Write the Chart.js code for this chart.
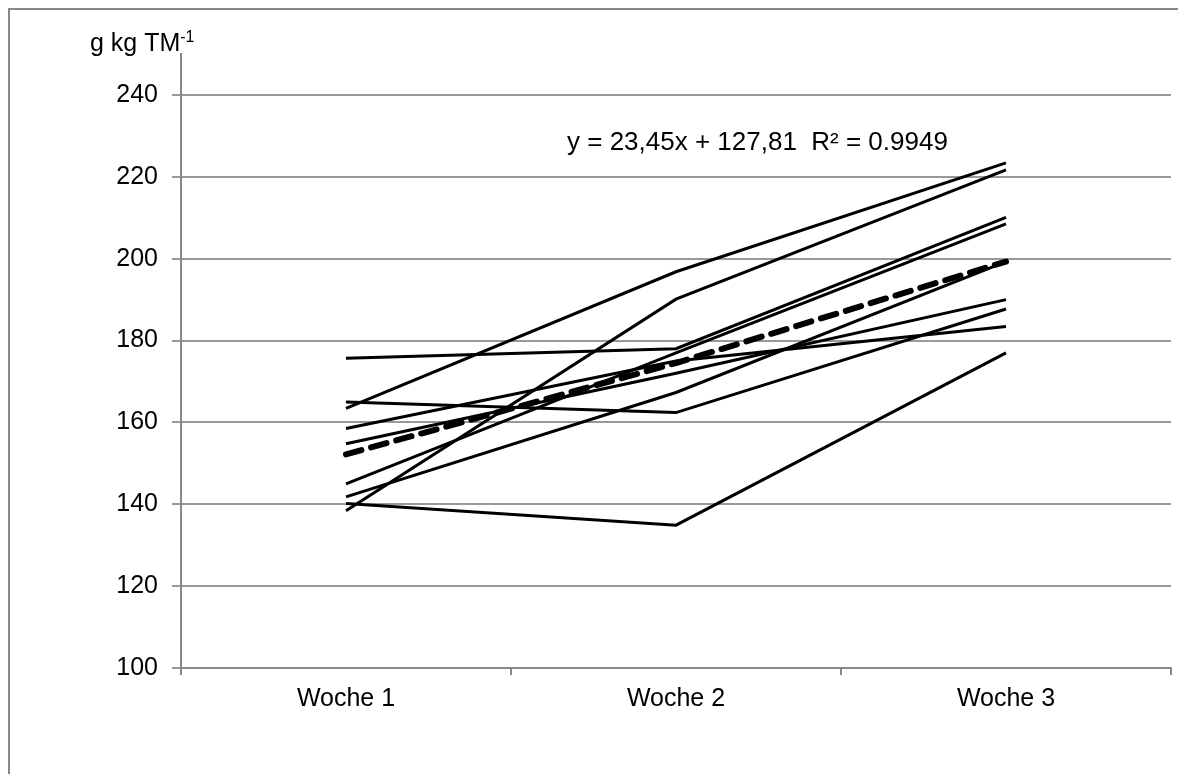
<!DOCTYPE html>
<html>
<head>
<meta charset="utf-8">
<script src="https://cdn.jsdelivr.net/npm/chart.js@4.4.1/dist/chart.umd.min.js"></script>
<style>
html,body{margin:0;padding:0;background:#fff;}
#wrap{position:relative;width:1178px;height:774px;}
</style>
</head>
<body>
<div id="wrap"><canvas id="c" width="1178" height="774"></canvas></div>
<script>
const categories = ['Woche 1', 'Woche 2', 'Woche 3'];
const seriesA = [163.4, 196.8, 223.4];
const seriesB = [138.4, 190.1, 221.7];
const seriesC = [140.2, 134.9, 177.0];
const seriesD = [165.0, 162.4, 187.7];
const seriesE = [175.7, 178.0, 210.1];
const seriesF = [141.8, 167.3, 199.3];
const seriesG = [158.5, 175.0, 183.4];
const seriesH = [154.8, 172.0, 190.0];
const seriesI = [145.0, 177.0, 208.5];
const meanLine = [152.2, 174.5, 199.3];
const yTickValues = [100, 120, 140, 160, 180, 200, 220, 240];
const yMin = 100, yMax = 250;
const unitLabel = 'g kg TM';
const unitSup = '-1';
const formulaText = 'y = 23,45x + 127,81  R² = 0.9949';

const FONT = '"Liberation Sans", Arial, sans-serif';
const solidSets = [seriesA, seriesB, seriesC, seriesD, seriesE, seriesF, seriesG, seriesH, seriesI];
const datasets = solidSets.map((d, i) => ({
  label: 'S' + (i + 1), data: d, borderColor: '#000', borderWidth: 3,
  pointRadius: 0, tension: 0, fill: false
}));
datasets.push({
  label: 'Mittel', data: meanLine, borderColor: '#000', borderWidth: 6,
  borderDash: [16, 10], borderCapStyle: 'round', pointRadius: 0, tension: 0, fill: false
});

const decor = {
  id: 'decor',
  beforeDraw(chart) {
    const ctx = chart.ctx;
    ctx.save();
    ctx.fillStyle = '#fff';
    ctx.fillRect(0, 0, chart.width, chart.height);
    ctx.strokeStyle = '#888';
    ctx.lineWidth = 2;
    ctx.strokeRect(9, 9, 1300, 900);
    ctx.restore();
  },
  afterDraw(chart) {
    const ctx = chart.ctx;
    ctx.save();
    ctx.fillStyle = '#000';
    ctx.textBaseline = 'alphabetic';
    ctx.font = '25px ' + FONT;
    ctx.fillText(unitLabel, 90, 51);
    const w = ctx.measureText(unitLabel).width;
    ctx.font = '16px ' + FONT;
    ctx.fillText(unitSup, 90 + w, 42);
    ctx.font = '26px ' + FONT;
    ctx.fillText(formulaText, 567, 150);
    ctx.restore();
  }
};

new Chart(document.getElementById('c'), {
  type: 'line',
  data: { labels: categories, datasets },
  options: {
    responsive: false, animation: false,
    layout: { padding: { left: 0, top: 54, right: 7, bottom: 0 } },
    plugins: { legend: { display: false }, tooltip: { enabled: false } },
    scales: {
      x: {
        offset: true,
        grid: { display: true, offset: true, drawOnChartArea: false, drawTicks: true, tickLength: 7, color: '#888', lineWidth: 2 },
        border: { display: true, color: '#888', width: 2 },
        ticks: { color: '#000', font: { family: FONT, size: 25 }, padding: 9, maxRotation: 0 },
        afterFit(s) { s.height = 106; }
      },
      y: {
        min: yMin, max: yMax,
        afterBuildTicks(s) { s.ticks = yTickValues.map(v => ({ value: v })); },
        grid: { color: '#999', lineWidth: 2, tickLength: 9, drawTicks: true },
        border: { display: true, color: '#888', width: 2 },
        ticks: { color: '#000', font: { family: FONT, size: 25 }, padding: 14 },
        afterFit(s) { s.width = 181; }
      }
    }
  },
  plugins: [decor]
});
</script>
</body>
</html>
